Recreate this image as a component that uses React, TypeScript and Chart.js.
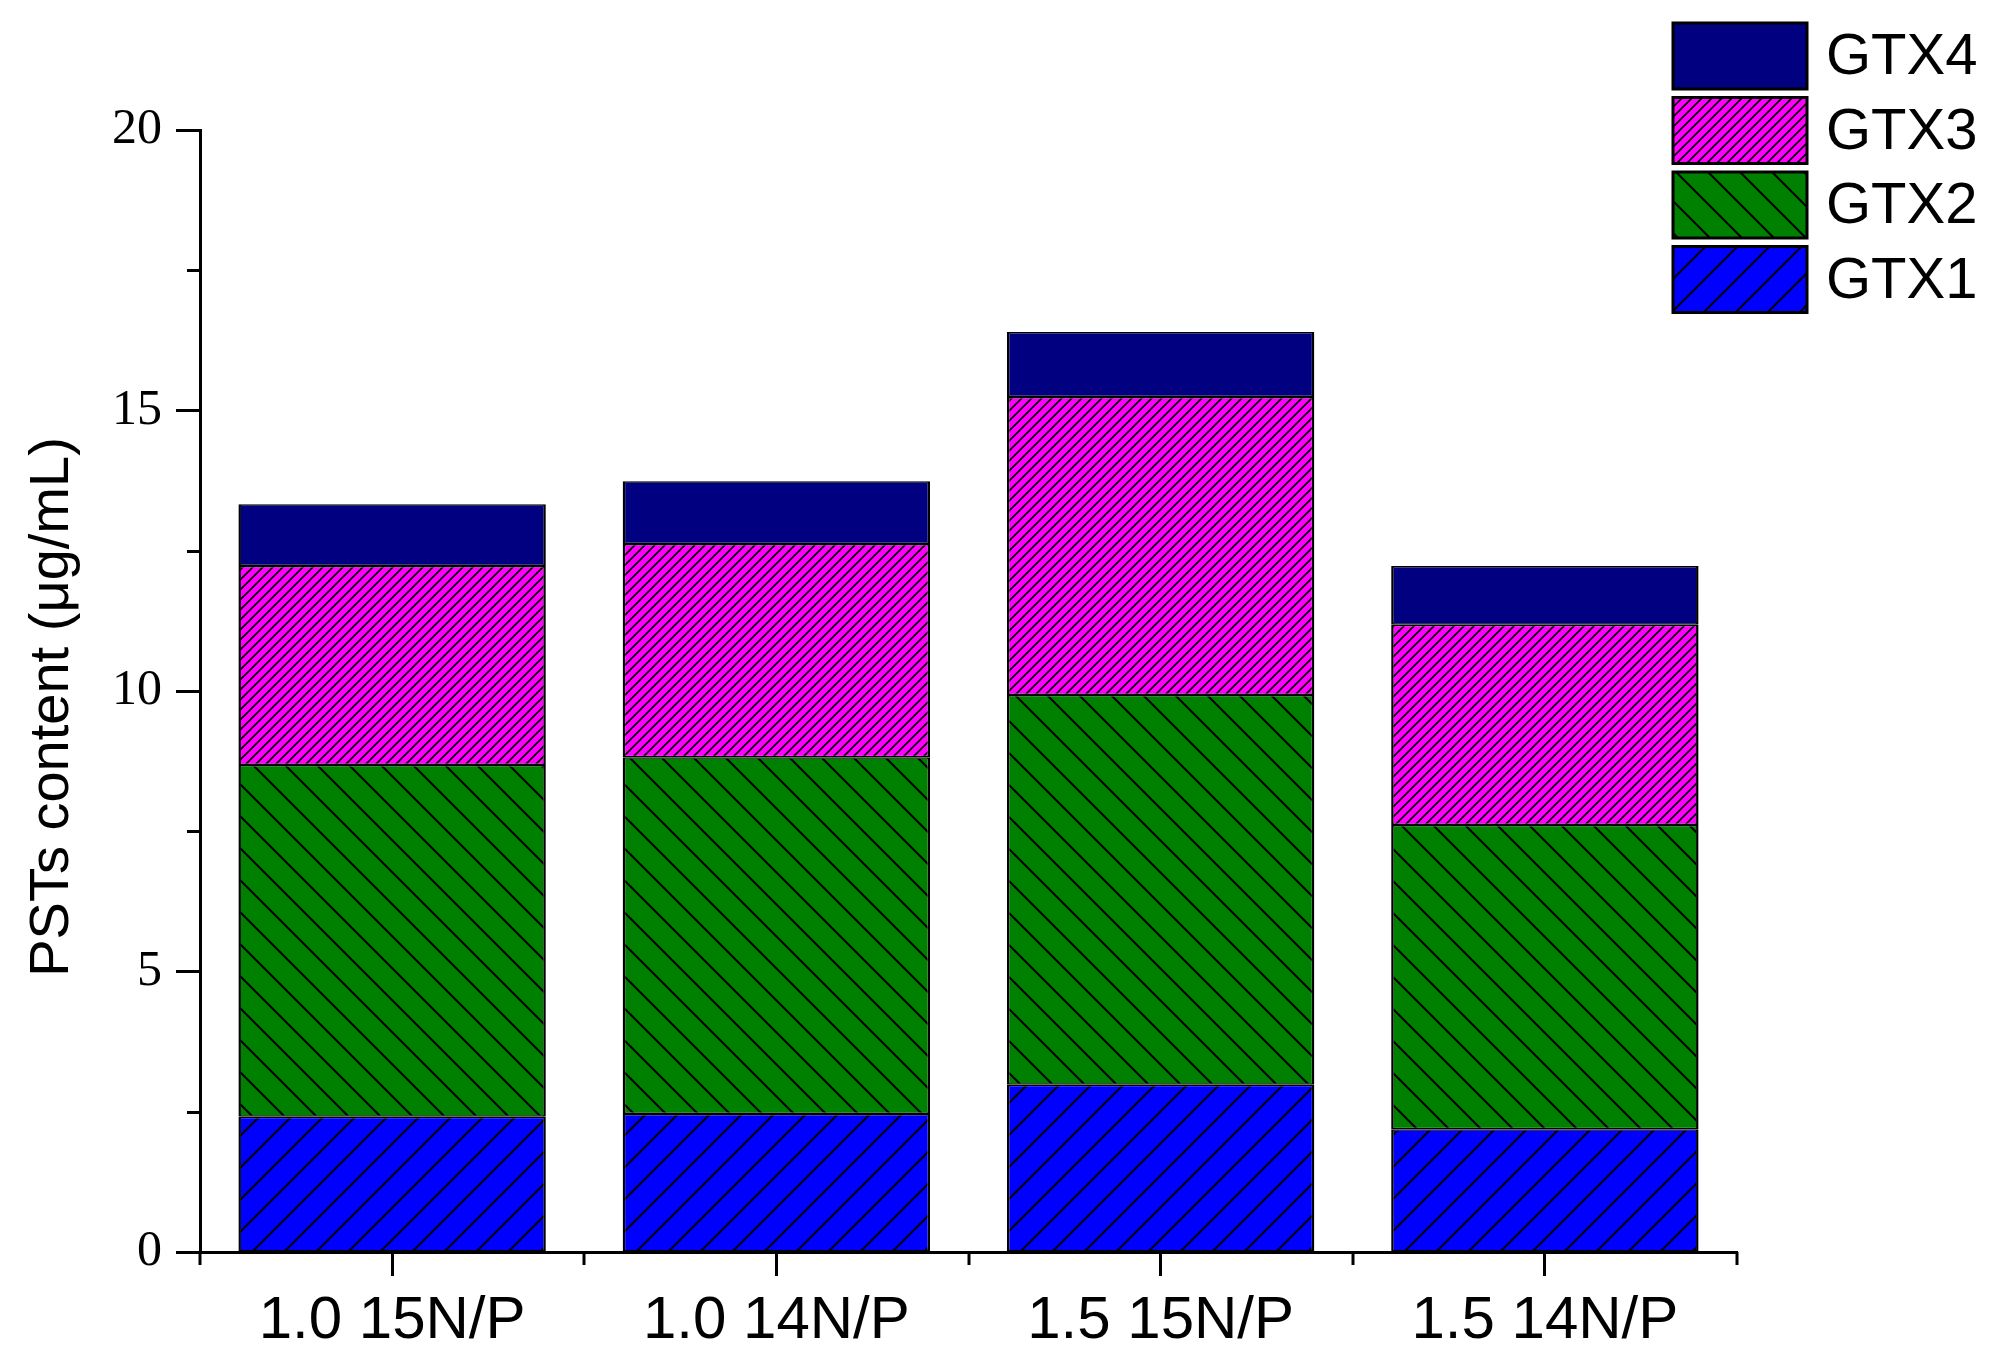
import React, { useEffect, useRef } from 'react';
import { Chart, registerables } from 'chart.js';

Chart.register(...registerables);

const categories = ['1.0 15N/P', '1.0 14N/P', '1.5 15N/P', '1.5 14N/P'];
const gtx1 = [2.41, 2.46, 2.98, 2.19];
const gtx2 = [6.27, 6.36, 6.95, 5.42];
const gtx3 = [3.55, 3.8, 5.31, 3.57];
const gtx4 = [1.1, 1.12, 1.16, 1.05];
const seriesNames = ['GTX1', 'GTX2', 'GTX3', 'GTX4'];
const yMin = 0;
const yMax = 20;
const yStep = 5;
const yMinorTicks = [2.5, 7.5, 12.5, 17.5];
const yTitle = 'PSTs content (μg/mL)';

const SANS = "'Liberation Sans', Arial, Helvetica, sans-serif";
const SERIF = "'Liberation Serif', 'Times New Roman', serif";

function makePattern(base: string, spacing: number, lw: number, dir: string): CanvasPattern | string {
  const c = document.createElement('canvas');
  c.width = spacing;
  c.height = spacing;
  const g = c.getContext('2d');
  if (!g) return base;
  g.fillStyle = base;
  g.fillRect(0, 0, spacing, spacing);
  if (dir !== 'none') {
    g.strokeStyle = '#000';
    g.lineWidth = lw;
    g.lineCap = 'square';
    for (let k = -1; k <= 1; k++) {
      const o = k * spacing;
      g.beginPath();
      if (dir === '/') {
        g.moveTo(o, spacing);
        g.lineTo(o + spacing, 0);
      } else {
        g.moveTo(o, 0);
        g.lineTo(o + spacing, spacing);
      }
      g.stroke();
    }
  }
  const p = g.createPattern(c, 'repeat');
  return p || base;
}

export default function App() {
  const ref = useRef<HTMLCanvasElement | null>(null);

  useEffect(() => {
    const canvas = ref.current;
    if (!canvas) return;
    const fills = [
      makePattern('#0000FF', 32, 2, '/'),
      makePattern('#008000', 32, 2, '\\'),
      makePattern('#FF00FF', 10, 1.6, '/'),
      makePattern('#000080', 10, 0, 'none'),
    ];
    const values = [gtx1, gtx2, gtx3, gtx4];

    const extras = {
      id: 'extras',
      afterDraw(chart: any) {
        const ctx = chart.ctx;
        const area = chart.chartArea;
        const ys = chart.scales.y;
        const xs = chart.scales.x;
        ctx.save();
        ctx.strokeStyle = '#000';
        ctx.lineWidth = 3;
        for (const v of yMinorTicks) {
          const py = Math.round(ys.getPixelForValue(v)) + 0.5;
          ctx.beginPath();
          ctx.moveTo(area.left - 13, py);
          ctx.lineTo(area.left, py);
          ctx.stroke();
        }
        const half = (xs.getPixelForValue(1) - xs.getPixelForValue(0)) / 2;
        for (let i = 0; i <= categories.length; i++) {
          const px = Math.round(xs.getPixelForValue(i) - half);
          ctx.beginPath();
          ctx.moveTo(px, area.bottom);
          ctx.lineTo(px, area.bottom + 13);
          ctx.stroke();
        }
        ctx.fillStyle = '#000';
        ctx.font = `56px ${SANS}`;
        ctx.textAlign = 'center';
        ctx.textBaseline = 'alphabetic';
        ctx.translate(68, 707);
        ctx.rotate(-Math.PI / 2);
        ctx.fillText(yTitle, 0, 0);
        ctx.restore();

        ctx.save();
        const lx = 1673;
        const bw = 134;
        const bh = 66;
        const startY = 23;
        const step = 74.5;
        const order = [3, 2, 1, 0];
        order.forEach((di, k) => {
          const by = startY + k * step;
          ctx.fillStyle = fills[di] as any;
          ctx.fillRect(lx, by, bw, bh);
          ctx.strokeStyle = '#000';
          ctx.lineWidth = 3;
          ctx.strokeRect(lx, by, bw, bh);
          ctx.fillStyle = '#000';
          ctx.font = `58px ${SANS}`;
          ctx.textAlign = 'left';
          ctx.textBaseline = 'middle';
          ctx.fillText(seriesNames[di], 1826, by + bh / 2 + 2);
        });
        ctx.restore();
      },
    };

    const chart = new Chart(canvas, {
      type: 'bar',
      data: {
        labels: categories,
        datasets: values.map((vals, i) => ({
          label: seriesNames[i],
          data: vals,
          backgroundColor: fills[i] as any,
          borderColor: '#000',
          borderWidth: { left: 2.5, right: 2.5, top: 1.5, bottom: 1.5 },
          borderSkipped: false,
          barPercentage: 0.8,
          categoryPercentage: 1.0,
        })),
      },
      options: {
        responsive: false,
        animation: false,
        devicePixelRatio: 1,
        layout: { padding: { left: 0, top: 130, right: 2003 - 1737, bottom: 0 } },
        plugins: {
          legend: { display: false },
          tooltip: { enabled: false },
          title: { display: false },
        },
        scales: {
          x: {
            type: 'category',
            stacked: true,
            offset: true,
            grid: {
              offset: false,
              drawOnChartArea: false,
              drawTicks: true,
              tickLength: 24,
              tickWidth: 3,
              tickColor: '#000',
            },
            border: { display: true, color: '#000', width: 3 },
            ticks: {
              color: '#000',
              padding: 9,
              maxRotation: 0,
              font: { family: SANS, size: 60 },
            },
            afterFit(scale: any) {
              scale.height = 1370 - 1252;
              scale.paddingLeft = 0;
              scale.paddingRight = 0;
            },
          },
          y: {
            type: 'linear',
            stacked: true,
            min: yMin,
            max: yMax,
            grid: {
              drawOnChartArea: false,
              drawTicks: true,
              tickLength: 24,
              tickWidth: 3,
              tickColor: '#000',
            },
            border: { display: true, color: '#000', width: 3 },
            ticks: {
              stepSize: yStep,
              color: '#000',
              padding: 14,
              font: { family: SERIF, size: 50 },
            },
            afterFit(scale: any) {
              scale.width = 200;
              scale.paddingTop = 0;
              scale.paddingBottom = 0;
            },
          },
        },
      },
      plugins: [extras],
    });

    return () => chart.destroy();
  }, []);

  return (
    <div style={{ position: 'fixed', left: 0, top: 0, width: 2003, height: 1370, background: '#fff' }}>
      <canvas ref={ref} width={2003} height={1370} style={{ display: 'block', width: 2003, height: 1370 }} />
    </div>
  );
}
